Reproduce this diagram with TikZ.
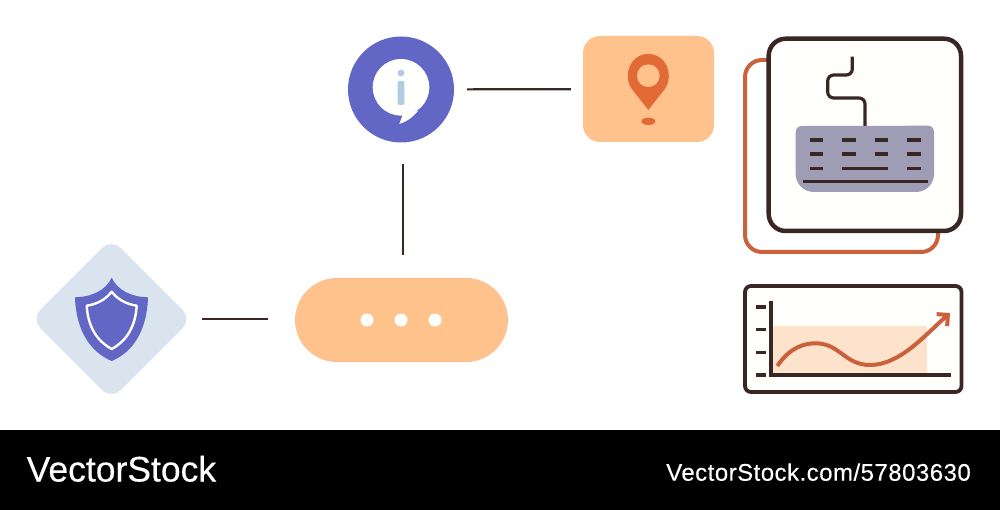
\documentclass[tikz,border=0pt]{standalone}
\usepackage{fontspec}
\setmainfont{Liberation Sans}
\newfontfamily\brandfont{Liberation Sans}[FakeBold=0.4]
\newfontfamily\stockfont{Liberation Sans}[FakeBold=0.3,LetterSpace=2]
\usetikzlibrary{shapes.geometric,arrows.meta}
\definecolor{ink}{HTML}{3A2725}
\definecolor{indigo}{HTML}{6266C4}
\definecolor{peach}{HTML}{FFC28D}
\definecolor{paleblue}{HTML}{D9E4EE}
\definecolor{skyblue}{HTML}{AECDE5}
\definecolor{pinred}{HTML}{E26A35}
\definecolor{rust}{HTML}{C9623C}
\definecolor{slate}{HTML}{9F9DB5}
\definecolor{cream}{HTML}{FFFFFB}
\definecolor{areafill}{HTML}{FDE3CB}
\tikzset{
  link/.style={line width=2.2pt, draw=ink},
  panel/.style={line width=4.5pt, draw=ink, fill=cream, rounded corners=17pt},
  keyrow/.style={line width=3.6pt, draw=ink},
  brand/.style={text=white, inner sep=0pt}
}
\begin{document}
\begin{tikzpicture}[x=1pt,y=-1pt]
\useasboundingbox (0,0) rectangle (1000,510);
\fill[black] (0,430) rectangle (1000,510);
\node[shape=circle, fill=indigo, minimum size=106pt, inner sep=0pt] (info) at (401,89.5) {};
\node[shape=rectangle, fill=peach, rounded corners=17pt, minimum width=131pt, minimum height=106pt] (pin) at (648.5,89) {};
\node[shape=rectangle, fill=peach, rounded corners=42pt, minimum width=213pt, minimum height=84pt] (dots) at (401.5,320) {};
\node[shape=diamond, fill=paleblue, rounded corners=13pt, aspect=1, minimum width=160.8pt, minimum height=160.8pt, inner sep=0pt] (shield) at (111.5,319) {};
\path [link, shorten <=13pt, shorten >=12pt] (info) edge (pin);
\path [link, shorten <=21.5pt, shorten >=23pt] ([xshift=2pt]info.south) edge ([xshift=1.5pt]dots.north);
\path [link, shorten <=10pt, shorten >=27pt] (shield.east) edge (shield.east -| dots.west);
% info bubble
\fill[cream] (401,87.3) circle (28.3);
\fill[cream] (403,114) -- (399.3,124) .. controls (406,122) and (412,118) .. (418,111) -- cycle;
\fill[skyblue] (401,73) circle (3.4);
\fill[skyblue, rounded corners=1.5pt] (397.7,81) rectangle (404.3,105);
% location pin
\fill[pinred] (648.3,110) -- (631,88) .. controls (623,75) and (630,54) .. (648.3,54) .. controls (666.6,54) and (673.6,75) .. (665.6,88) -- cycle;
\fill[peach] (648.3,75.7) circle (11.3);
\fill[pinred] (648.3,121.3) ellipse (7 and 3.7);
% three dots
\foreach \dotx in {367,401,435}
  \fill[white] (\dotx,320) circle (6.5);
% shield
\fill[indigo] (111.7,277.7) .. controls (106,290) and (92,297) .. (75,297.3) .. controls (76,330) and (90,352) .. (111.7,361) .. controls (133.4,352) and (147,330) .. (148,297.3) .. controls (131,297) and (117.4,290) .. cycle;
\draw[white, line width=2.4pt, line join=round] (111.7,291.7) .. controls (106,299) and (98,304) .. (86.7,305.7) .. controls (88,327) and (97,341) .. (111.7,349) .. controls (126.4,341) and (135.4,327) .. (136.7,305.7) .. controls (125.4,304) and (117.4,299) .. cycle;
% keyboard panels
\draw[line width=4pt, draw=rust, rounded corners=17pt] (745,60) rectangle (938,252);
\draw[panel] (768.7,38.7) rectangle (961,231);
\draw[keyrow, line width=3.2pt, rounded corners=6pt] (852.3,56.7) -- (852.3,75) -- (827.7,75) -- (827.7,98) -- (865,98) -- (865,127);
\fill[slate] (795.7,132) arc (180:270:6) -- (928,125.7) arc (270:360:6) -- (934,174) arc (0:90:18) -- (813.7,192) arc (90:180:18) -- cycle;
\foreach \rowy in {140,154.3,168.7} {
  \draw[keyrow] (810,\rowy) -- (823.3,\rowy);
  \draw[keyrow] (907.3,\rowy) -- (920.7,\rowy);
}
\foreach \rowy in {140,154.3} {
  \draw[keyrow] (842.3,\rowy) -- (855.7,\rowy);
  \draw[keyrow] (874.7,\rowy) -- (888,\rowy);
}
\draw[keyrow] (842.3,168.7) -- (888,168.7);
\draw[keyrow] (803.3,181.7) -- (927.7,181.7);
% chart
\draw[line width=3.8pt, draw=ink, fill=cream, rounded corners=6pt] (745,286) rectangle (961.5,392);
\fill[areafill] (771.7,326) rectangle (926.7,375);
\foreach \ticky in {306.7,329.3,352.3,375}
  \draw[keyrow] (756,\ticky) -- (766,\ticky);
\draw[keyrow] (771,301) -- (771,375) -- (950.5,375);
\draw[rust, line width=4pt, -{Straight Barb[length=8pt,width=16pt]}] (777.3,366) .. controls (790,347) and (805,343) .. (816.7,343.3) .. controls (840,344) and (845,365) .. (870,365) .. controls (900,365) and (925,335) .. (950,313);
\node[brand, anchor=base west, font=\brandfont\fontsize{35.5}{35.5}\selectfont] (brand) at (26.5,481.5) {VectorStock};
\node[brand, anchor=base east, font=\stockfont\fontsize{24}{24}\selectfont] (stockid) at (971,480.7) {VectorStock.com/57803630};
\end{tikzpicture}
\end{document}
